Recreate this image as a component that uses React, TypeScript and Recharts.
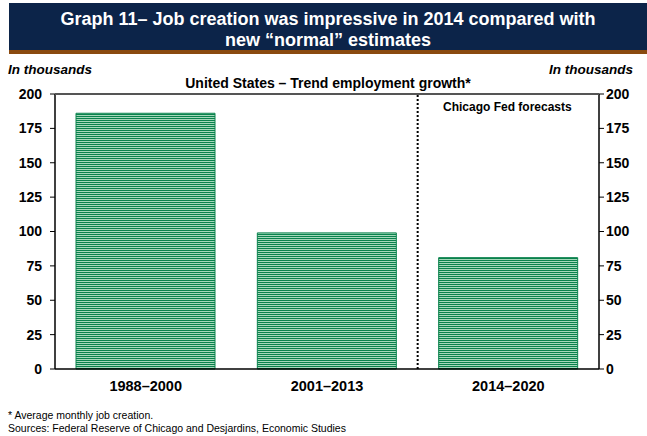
import { ComposedChart, Bar, Line, XAxis, YAxis, ReferenceLine } from 'recharts';

const periods = ['1988–2000', '2001–2013', '2014–2020'];
const growth = [186, 99, 81];
const yTicks = [0, 25, 50, 75, 100, 125, 150, 175, 200];

const data = periods.map((period, i) => ({ period, growth: growth[i] }));

const font = '"Liberation Sans", Arial, Helvetica, sans-serif';
const tickStyle = { fill: '#000', fontSize: 14, fontWeight: 700, fontFamily: font };

// plot frame, shared by the chart margins and the grey top rule
const plotTop = 94;
const plotLeft = 55;
const plotRight = 599;

export default function App() {
  return (
    <div style={{ position: 'absolute', top: 0, left: 0, width: 647, height: 436, background: '#fff', fontFamily: font, overflow: 'hidden' }}>
      {/* title band */}
      <div style={{ position: 'absolute', left: 9, top: 3, width: 638, height: 47, background: '#0c2449' }} />
      <div style={{ position: 'absolute', left: 9, top: 9, width: 638, color: '#fff', fontWeight: 700, fontSize: 18, lineHeight: '21px', textAlign: 'center' }}>
        Graph 11– Job creation was impressive in 2014 compared with<br />new “normal” estimates
      </div>
      <div style={{ position: 'absolute', left: 9, top: 50, width: 638, height: 4, background: '#8a4a10' }} />

      <div style={{ position: 'absolute', left: 8, top: 63, fontSize: 13.5, lineHeight: 1, fontWeight: 700, fontStyle: 'italic' }}>In thousands</div>
      <div style={{ position: 'absolute', right: 14, top: 63, fontSize: 13.5, lineHeight: 1, fontWeight: 700, fontStyle: 'italic' }}>In thousands</div>
      <div style={{ position: 'absolute', left: 0, width: 656, top: 76, fontSize: 14, lineHeight: 1, fontWeight: 700, textAlign: 'center' }}>
        United States – Trend employment growth*
      </div>
      <div style={{ position: 'absolute', left: 443, top: 101, fontSize: 12, lineHeight: 1, fontWeight: 700 }}>Chicago Fed forecasts</div>

      <div style={{ position: 'absolute', left: 0, top: 0 }}>
        <ComposedChart width={647} height={436} data={data} margin={{ top: plotTop, right: 0, left: 0, bottom: 37 }}>
          <defs>
            <pattern id="stripes" patternUnits="userSpaceOnUse" width={6} height={2}>
              <rect x={0} y={0} width={6} height={2} fill="#a6d8bb" />
              <rect x={0} y={0} width={6} height={1} fill="#0a824d" />
            </pattern>
          </defs>
          <XAxis
            dataKey="period"
            height={30}
            tickLine={false}
            tickMargin={6}
            axisLine={{ stroke: '#000', strokeWidth: 1.5 }}
            tick={{ ...tickStyle, fontSize: 14.5 }}
          />
          <YAxis
            yAxisId="left"
            width={plotLeft}
            domain={[0, 200]}
            ticks={yTicks}
            tickSize={5}
            tickMargin={8}
            axisLine={{ stroke: '#000', strokeWidth: 1.5 }}
            tickLine={{ stroke: '#000' }}
            tick={tickStyle}
          />
          <YAxis
            yAxisId="right"
            orientation="right"
            width={647 - plotRight}
            domain={[0, 200]}
            ticks={yTicks}
            tickSize={5}
            tickMargin={2}
            axisLine={{ stroke: '#000', strokeWidth: 1.5 }}
            tickLine={{ stroke: '#000' }}
            tick={tickStyle}
          />
          <Bar
            yAxisId="left"
            dataKey="growth"
            barSize={139}
            fill="url(#stripes)"
            stroke="#0a824d"
            strokeWidth={1}
            isAnimationActive={false}
          />
          {/* keeps the right-hand axis alive; draws nothing visible */}
          <Line
            yAxisId="right"
            dataKey="growth"
            stroke="none"
            dot={false}
            activeDot={false}
            legendType="none"
            isAnimationActive={false}
          />
          <ReferenceLine
            yAxisId="left"
            x="2014–2020"
            position="start"
            stroke="#000"
            strokeWidth={2}
            strokeDasharray="2 2"
            ifOverflow="visible"
          />
        </ComposedChart>
      </div>

      {/* grey rule closing the top of the plot frame */}
      <div style={{ position: 'absolute', left: plotLeft, top: plotTop - 1, width: plotRight - plotLeft, height: 1.5, background: '#555' }} />

      <div style={{ position: 'absolute', left: 8, top: 410, fontSize: 10.5, lineHeight: 1 }}>* Average monthly job creation.</div>
      <div style={{ position: 'absolute', left: 8, top: 423, fontSize: 10.5, lineHeight: 1 }}>Sources: Federal Reserve of Chicago and Desjardins, Economic Studies</div>
    </div>
  );
}
